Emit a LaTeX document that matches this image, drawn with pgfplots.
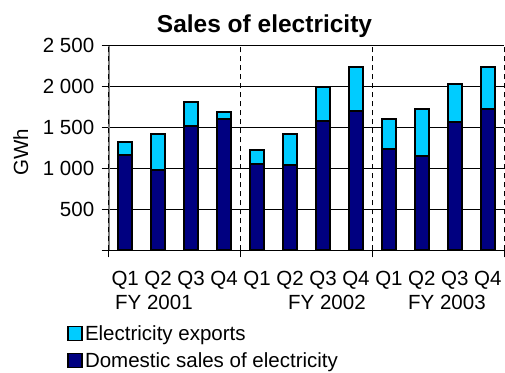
\documentclass[border=0pt]{standalone}
\usepackage{fontspec}
\setmainfont{Liberation Sans}
\usepackage{pgfplots}
\pgfplotsset{compat=1.18}
\definecolor{navyb}{RGB}{0,0,128}
\definecolor{cyanb}{RGB}{0,204,255}
\begin{document}
\begin{tikzpicture}[x=1bp,y=1bp,font=\fontsize{20.5bp}{24bp}\selectfont]
\begin{axis}[
  at={(108.7bp,121.7bp)}, anchor=south west,
  scale only axis, width=395.6bp, height=204.6bp,
  ybar stacked, bar width=0.42,
  xmin=-0.5, xmax=11.5, ymin=0, ymax=2500,
  axis lines*=left,
  x axis line style={black, line width=0.9bp},
  y axis line style={gray, line width=1.8bp},
  tick align=outside, major tick length=7bp,
  xtick={0,...,11},
  xticklabels={Q1,Q2,Q3,Q4,Q1,Q2,Q3,Q4,Q1,Q2,Q3,Q4},
  xtick style={draw=none},
  xticklabel style={yshift=-10bp},
  extra x ticks={-0.5,3.5,7.5,11.5},
  extra x tick labels={},
  extra x tick style={xtick style={draw=black, line width=0.9bp}, grid=major,
     major grid style={black, dash pattern=on 5bp off 4bp, line width=0.9bp}},
  ytick={0,500,1000,1500,2000,2500},
  yticklabels={{},500,{1 000},{1 500},{2 000},{2 500}},
  ytick style={black, line width=0.9bp},
  yticklabel style={xshift=-4bp},
  ymajorgrids=true,
  major grid style={black, line width=0.9bp},
  reverse legend,
  legend style={at={(axis description cs:-0.1054,-0.356)}, anchor=north west,
     draw=none, fill=none, inner sep=0pt, row sep=6.6bp,
     nodes={inner sep=2bp, anchor=west}},
  legend image code/.code={\draw[#1, line width=1.8bp] (0bp,-7bp) rectangle (14bp,7bp);},
]
\addplot[fill=navyb, draw=black, line width=2bp] coordinates {
(0,1164) (1,981) (2,1523) (3,1601) (4,1051) (5,1039) (6,1580) (7,1702) (8,1234) (9,1156) (10,1568) (11,1723)};
\addplot[fill=cyanb, draw=black, line width=2bp] coordinates {
(0,162) (1,434) (2,295) (3,83) (4,177) (5,384) (6,418) (7,532) (8,369) (9,565) (10,462) (11,519)};
\legend{Domestic sales of electricity, Electricity exports}
\end{axis}
\node[anchor=base, inner sep=0pt, font=\bfseries\fontsize{24.5bp}{28bp}\selectfont] at (264.5,339.7) {Sales of electricity};
\node[rotate=90, anchor=base, inner sep=0pt] at (28,219.5) {GWh};
\node[anchor=base west, inner sep=0pt] at (115,63) {FY 2001};
\node[anchor=base west, inner sep=0pt] at (288,63) {FY 2002};
\node[anchor=base west, inner sep=0pt] at (408,63) {FY 2003};
\pgfresetboundingbox
\path (0,0) rectangle (505,372);
\end{tikzpicture}
\end{document}
